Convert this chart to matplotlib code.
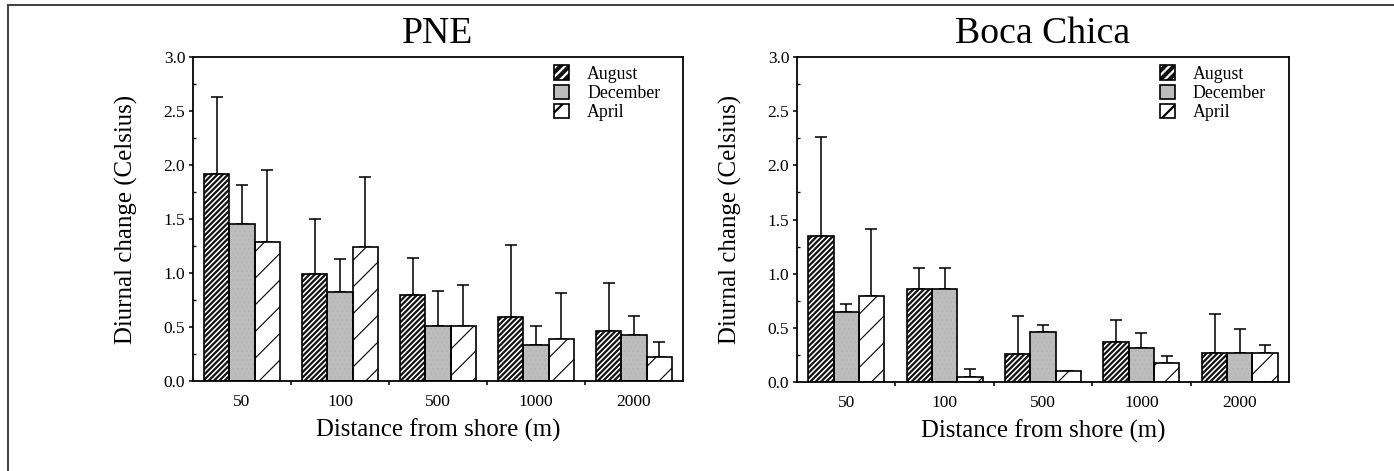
import matplotlib
matplotlib.use("Agg")
import matplotlib.pyplot as plt
import numpy as np
from matplotlib.lines import Line2D
from matplotlib.patches import Rectangle
from matplotlib.legend_handler import HandlerTuple

distances = ["50", "100", "500", "1000", "2000"]
months = ["August", "December", "April"]

pne_august = [1.92, 0.99, 0.795, 0.594, 0.464]
pne_august_err = [0.71, 0.51, 0.34, 0.665, 0.44]
pne_december = [1.45, 0.826, 0.51, 0.334, 0.421]
pne_december_err = [0.365, 0.305, 0.32, 0.176, 0.18]
pne_april = [1.29, 1.243, 0.51, 0.384, 0.223]
pne_april_err = [0.66, 0.647, 0.378, 0.426, 0.136]

boca_august = [1.348, 0.855, 0.253, 0.37, 0.268]
boca_august_err = [0.918, 0.2, 0.355, 0.2, 0.358]
boca_december = [0.648, 0.855, 0.46, 0.309, 0.268]
boca_december_err = [0.071, 0.2, 0.067, 0.144, 0.217]
boca_april = [0.793, 0.046, 0.099, 0.17, 0.268]
boca_april_err = [0.62, 0.071, 0.0, 0.07, 0.074]

DPI = 160
fig = plt.figure(figsize=(1394 / DPI, 471 / DPI), dpi=DPI)
plt.rcParams['font.family'] = ['Liberation Serif', 'DejaVu Serif']

styles = [
    dict(facecolor="#111111", hatch_color="white", hatch="//////////", hlw=0.7, leg_hatch="//////"),
    dict(facecolor="#bcbcbc", hatch_color="#b0b0b0", hatch="......", hlw=0.2, leg_hatch=""),
    dict(facecolor="white", hatch_color="black", hatch="//", hlw=0.5, leg_hatch="//"),
]


def panel(ax, title, series, errs):
    x = np.arange(len(distances))
    w = 0.257
    handles = []
    for i, (vals, err, st) in enumerate(zip(series, errs, styles)):
        pos = x + (i - 1) * w
        with plt.rc_context({'hatch.linewidth': st['hlw'], 'hatch.color': st['hatch_color']}):
            ax.bar(pos, vals, w, color=st['facecolor'], edgecolor=st['hatch_color'],
                   hatch=st['hatch'], linewidth=0, zorder=2)
            fill = Rectangle((0, 0), 1, 1, facecolor=st['facecolor'], edgecolor=st['hatch_color'],
                             hatch=st['leg_hatch'], linewidth=0)
        ax.bar(pos, vals, w, facecolor='none', edgecolor='black', linewidth=0.75, zorder=3)
        ax.errorbar(pos, vals, yerr=[np.zeros(len(vals)), err], fmt='none',
                    ecolor='black', elinewidth=0.7, capsize=2.6, capthick=0.7, zorder=1)
        outline = Rectangle((0, 0), 1, 1, facecolor='none', edgecolor='black', linewidth=0.75)
        handles.append((fill, outline))
    ax.set_xlim(-0.5, len(distances) - 0.5)
    ax.set_ylim(0, 3.0)
    ax.set_yticks(np.arange(0, 3.01, 0.5))
    ax.set_yticklabels([f"{v:.1f}" for v in np.arange(0, 3.01, 0.5)])
    ax.set_yticks(np.arange(0.25, 3.0, 0.5), minor=True)
    ax.set_xticks(x)
    ax.set_xticklabels(distances)
    ax.set_xticks(np.arange(0.5, len(distances) - 0.9, 1.0), minor=True)
    ax.tick_params(axis='x', which='major', length=0, pad=6, labelsize=7.8)
    ax.tick_params(axis='x', which='minor', length=2, width=0.7, direction='out')
    ax.tick_params(axis='y', which='major', length=2, width=0.7, direction='out', pad=1.5, labelsize=7.8)
    ax.tick_params(axis='y', which='minor', length=1.5, width=0.6, direction='in')
    for s in ax.spines.values():
        s.set_linewidth(0.8)
    ax.set_title(title, fontsize=17, y=1.044, pad=0)
    ax.set_xlabel("Distance from shore (m)", fontsize=11.2, labelpad=4)
    ax.set_ylabel("Diurnal change (Celsius)", fontsize=11.2)
    ax.yaxis.set_label_coords(-0.112, 0.5)
    ax.legend(handles, months, loc='upper left', bbox_to_anchor=(0.737, 0.975),
              frameon=False, fontsize=8, handlelength=0.85, handleheight=0.85,
              handletextpad=1.0, labelspacing=0.12, borderpad=0, borderaxespad=0,
              handler_map={tuple: HandlerTuple(ndivide=1, pad=0)})


ax1 = fig.add_axes([193 / 1394, 1 - 380.7 / 471, 490 / 1394, 323.4 / 471])
ax2 = fig.add_axes([797 / 1394, 1 - 381.7 / 471, 492 / 1394, 324.4 / 471])

panel(ax1, "PNE", [pne_august, pne_december, pne_april],
      [pne_august_err, pne_december_err, pne_april_err])
panel(ax2, "Boca Chica", [boca_august, boca_december, boca_april],
      [boca_august_err, boca_december_err, boca_april_err])

fig.add_artist(Line2D([7.7 / 1394, 7.7 / 1394], [0, 1 - 5 / 471], transform=fig.transFigure,
                      color='#444444', linewidth=0.9))
fig.add_artist(Line2D([7.7 / 1394, 1], [1 - 5 / 471, 1 - 5 / 471], transform=fig.transFigure,
                      color='#444444', linewidth=0.9))

fig.savefig("out.png", dpi=DPI)
